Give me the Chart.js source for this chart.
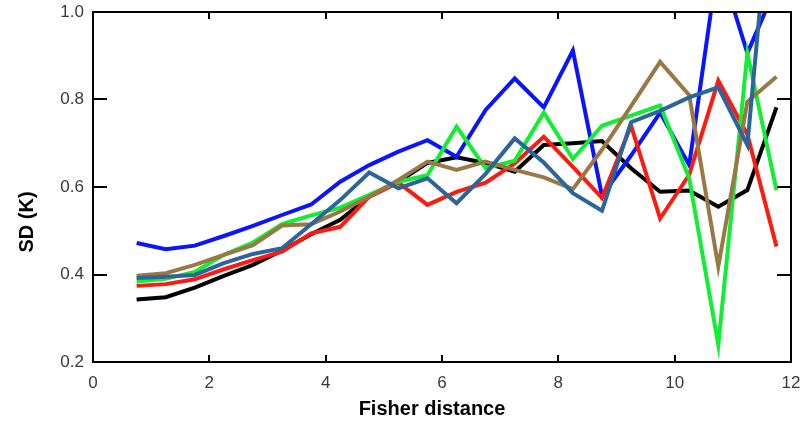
<!DOCTYPE html>
<html>
<head>
<meta charset="utf-8">
<script src="https://cdn.jsdelivr.net/npm/chart.js@4.4.1/dist/chart.umd.min.js"></script>
<style>
  html, body { margin: 0; padding: 0; background: #ffffff; }
  #wrap { width: 805px; height: 422px; }
</style>
</head>
<body>
<div id="wrap"><canvas id="chart" width="805" height="422"></canvas></div>
<script>
// Fisher distance bin centres
const fisherDistance = [0.75, 1.25, 1.75, 2.25, 2.75, 3.25, 3.75, 4.25, 4.75, 5.25, 5.75, 6.25,
                        6.75, 7.25, 7.75, 8.25, 8.75, 9.25, 9.75, 10.25, 10.75, 11.25, 11.75];

// Standard deviation (K) per bin, one array per curve
const sdBlack = [0.343, 0.348, 0.370, 0.397, 0.422, 0.455, 0.492, 0.525, 0.578, 0.612, 0.655, 0.668,
                 0.655, 0.635, 0.696, 0.700, 0.705, 0.643, 0.589, 0.592, 0.555, 0.593, 0.782];
const sdBlue  = [0.472, 0.458, 0.466, 0.488, 0.511, 0.536, 0.560, 0.612, 0.650, 0.681, 0.707, 0.669,
                 0.776, 0.848, 0.782, 0.912, 0.580, 0.672, 0.770, 0.650, 1.120, 0.906, 1.060];
const sdRed   = [0.374, 0.378, 0.389, 0.412, 0.433, 0.452, 0.494, 0.509, 0.578, 0.610, 0.559, 0.589,
                 0.610, 0.654, 0.715, 0.646, 0.575, 0.740, 0.528, 0.628, 0.843, 0.720, 0.464];
const sdGreen = [0.384, 0.390, 0.406, 0.445, 0.473, 0.515, 0.535, 0.553, 0.582, 0.612, 0.627, 0.738,
                 0.643, 0.660, 0.770, 0.664, 0.740, 0.763, 0.786, 0.620, 0.239, 0.906, 0.593];
const sdBrown = [0.397, 0.403, 0.422, 0.445, 0.467, 0.512, 0.515, 0.544, 0.578, 0.616, 0.658, 0.639,
                 0.658, 0.639, 0.622, 0.595, 0.685, 0.785, 0.886, 0.810, 0.418, 0.795, 0.852];
const sdSteel = [0.392, 0.395, 0.399, 0.426, 0.447, 0.460, 0.515, 0.570, 0.633, 0.597, 0.620, 0.563,
                 0.630, 0.711, 0.656, 0.586, 0.546, 0.748, 0.774, 0.805, 0.828, 0.696, 1.420];

// Axis ticks
const xTicks = [0, 2, 4, 6, 8, 10, 12];
const yTicks = [0.2, 0.4, 0.6, 0.8, 1.0];

const xTitle = 'Fisher distance';
const yTitle = 'SD (K)';

function pairs(values) {
  return fisherDistance.map((x, i) => ({ x: x, y: values[i] }));
}

function series(values, color, order) {
  return {
    data: pairs(values),
    borderColor: color,
    backgroundColor: color,
    borderWidth: 4,
    pointRadius: 0,
    tension: 0,
    fill: false,
    order: order,
    borderJoinStyle: 'miter'
  };
}

// Box frame with inward tick marks and the two axis titles
const framePlugin = {
  id: 'frame',
  afterDraw(chart) {
    const { ctx, chartArea: a, scales } = chart;
    ctx.save();
    ctx.strokeStyle = '#000000';
    ctx.lineWidth = 2;
    ctx.strokeRect(a.left, a.top, a.right - a.left, a.bottom - a.top);

    ctx.beginPath();
    xTicks.slice(1, -1).forEach(v => {
      const px = Math.round(scales.x.getPixelForValue(v));
      ctx.moveTo(px, a.bottom); ctx.lineTo(px, a.bottom - 7);
      ctx.moveTo(px, a.top);    ctx.lineTo(px, a.top + 7);
    });
    yTicks.slice(1, -1).forEach(v => {
      const py = Math.round(scales.y.getPixelForValue(v));
      ctx.moveTo(a.left, py);  ctx.lineTo(a.left + 14, py);
      ctx.moveTo(a.right, py); ctx.lineTo(a.right - 14, py);
    });
    ctx.stroke();

    ctx.fillStyle = '#000000';
    ctx.font = 'bold 20px "Liberation Sans", Arial, sans-serif';
    ctx.textAlign = 'center';
    ctx.textBaseline = 'middle';
    ctx.fillText(xTitle, 432, 409);
    ctx.translate(27, 222);
    ctx.rotate(-Math.PI / 2);
    ctx.fillText(yTitle, 0, 0);
    ctx.restore();
  }
};

new Chart(document.getElementById('chart'), {
  type: 'line',
  data: {
    datasets: [
      series(sdSteel, '#2b659b', 0),
      series(sdBrown, '#9a7846', 1),
      series(sdGreen, '#11ee33', 2),
      series(sdRed,   '#ff1a10', 3),
      series(sdBlue,  '#0a14ff', 4),
      series(sdBlack, '#000000', 5)
    ]
  },
  options: {
    responsive: false,
    animation: false,
    layout: { padding: { left: 0, right: 14, top: 12, bottom: 0 } },
    plugins: { legend: { display: false }, tooltip: { enabled: false } },
    scales: {
      x: {
        type: 'linear',
        min: 0,
        max: 12,
        afterBuildTicks: s => { s.ticks = xTicks.map(v => ({ value: v })); },
        afterFit: s => { s.height = 60; s.paddingLeft = 0; s.paddingRight = 0; },
        grid: { display: false, drawTicks: false },
        border: { display: false },
        ticks: {
          padding: 11,
          color: '#3a3a3a',
          font: { family: '"Liberation Sans", Arial, sans-serif', size: 17 },
          maxRotation: 0,
          callback: v => String(v)
        }
      },
      y: {
        type: 'linear',
        min: 0.2,
        max: 1.0,
        afterBuildTicks: s => { s.ticks = yTicks.map(v => ({ value: v })); },
        afterFit: s => { s.width = 93; s.paddingTop = 0; s.paddingBottom = 0; },
        grid: { display: false, drawTicks: false },
        border: { display: false },
        ticks: {
          padding: 9,
          color: '#3a3a3a',
          font: { family: '"Liberation Sans", Arial, sans-serif', size: 17 },
          callback: v => Number(v).toFixed(1)
        }
      }
    }
  },
  plugins: [framePlugin]
});
</script>
</body>
</html>
